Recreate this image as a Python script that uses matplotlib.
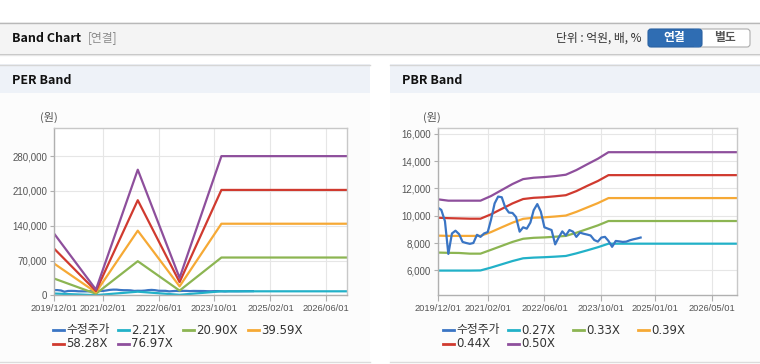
import numpy as np
import pandas as pd
import matplotlib
matplotlib.use('Agg')
import matplotlib.pyplot as plt
from matplotlib.patches import Rectangle, FancyBboxPatch

KR = ['Noto Sans CJK KR', 'DejaVu Sans']
NUM = ['DejaVu Sans', 'Noto Sans CJK KR']
plt.rcParams['font.family'] = KR

# 수정주가 (월별, 2019/12 ~ 2024/09)
price = [10600, 10420, 9600, 7200, 8700, 8900, 8650, 8080, 8000, 7940,
         8000, 8600, 8450, 8700, 8800, 9700, 10900, 11400, 11350, 10600,
         10230, 10200, 9900, 8830, 9150, 9050, 9500, 10400, 10850, 10300,
         9150, 9050, 8950, 7900, 8400, 8850, 8550, 8950, 8830, 8450,
         8760, 8680, 8620, 8550, 8220, 8100, 8400, 8450, 8150, 7720,
         8150, 8120, 8080, 8100, 8200, 8270, 8330, 8400]
price_dates = pd.date_range('2019-12-01', periods=len(price), freq='MS')

# PER band (연간)
per_dates = pd.to_datetime(['2019-12-01', '2020-12-01', '2021-12-01',
                            '2022-12-01', '2023-12-01', '2026-12-01'])
per_221 = [3570, 330, 7260, 1000, 8040, 8040]
per_2090 = [33800, 3100, 68600, 9500, 76000, 76000]
per_3959 = [64000, 5900, 130000, 18000, 144000, 144000]
per_5828 = [94200, 8700, 191300, 26500, 212000, 212000]
per_7697 = [124400, 11500, 252700, 35000, 280000, 280000]
per_labels = ['2.21X', '20.90X', '39.59X', '58.28X', '76.97X']

# PBR band (분기)
pbr_dates = pd.to_datetime(['2019-12-01', '2020-03-01', '2020-06-01', '2020-09-01',
                            '2020-12-01', '2021-03-01', '2021-06-01', '2021-09-01',
                            '2021-12-01', '2022-03-01', '2022-06-01', '2022-09-01',
                            '2022-12-01', '2023-03-01', '2023-06-01', '2023-09-01',
                            '2023-12-01', '2026-12-07'])
pbr_027 = [5980, 5980, 5980, 5980, 5990, 6200, 6440, 6680, 6880, 6930,
           6960, 7000, 7050, 7240, 7460, 7690, 7950, 7950]
pbr_033 = [7300, 7280, 7270, 7220, 7220, 7500, 7790, 8080, 8310, 8380,
           8410, 8460, 8520, 8750, 9020, 9290, 9610, 9610]
pbr_039 = [8540, 8520, 8520, 8520, 8520, 8800, 9150, 9490, 9770, 9850,
           9880, 9940, 10010, 10280, 10600, 10920, 11290, 11290]
pbr_044 = [9850, 9820, 9800, 9780, 9780, 10100, 10500, 10900, 11220, 11310,
           11350, 11420, 11500, 11800, 12180, 12540, 12970, 12970]
pbr_050 = [11200, 11100, 11100, 11100, 11100, 11440, 11880, 12320, 12680, 12780,
           12830, 12900, 13000, 13340, 13760, 14170, 14650, 14650]
pbr_labels = ['0.27X', '0.33X', '0.39X', '0.44X', '0.50X']

per_xticks = ['2019/12/01', '2021/02/01', '2022/06/01', '2023/10/01', '2025/02/01', '2026/06/01']
pbr_xticks = ['2019/12/01', '2021/02/01', '2022/06/01', '2023/10/01', '2025/01/01', '2026/05/01']
per_yticks = [0, 70000, 140000, 210000, 280000]
pbr_yticks = [6000, 8000, 10000, 12000, 14000, 16000]

price_color = '#3a75c4'
band_colors = ['#22b1c8', '#8cb552', '#f6a935', '#d03a2f', '#8e4f9c']

fig = plt.figure(figsize=(7.6, 3.64), dpi=100)
fig.patch.set_facecolor('white')

# 배경 (픽셀 좌표)
bg = fig.add_axes([0, 0, 1, 1])
bg.set_xlim(0, 760)
bg.set_ylim(364, 0)
bg.axis('off')

bg.add_patch(Rectangle((0, 22), 760, 31, fc='#f4f4f4', ec='none'))
bg.plot([0, 760], [22.5, 22.5], color='#b8b8b8', lw=1)
bg.plot([0, 760], [53.5, 53.5], color='#c2c2c2', lw=1)
bg.plot([0, 760], [54.5, 54.5], color='#e6e6e6', lw=1)
bg.text(12, 38, 'Band Chart', fontsize=9, fontweight='bold', color='#111', va='center')
bg.text(88, 38, '[연결]', fontsize=8.5, color='#8a8a8a', va='center')
bg.text(641, 38, '단위 : 억원, 배, %', fontsize=8.5, color='#333', va='center', ha='right')
bg.add_patch(FancyBboxPatch((699, 29), 51, 18, boxstyle='round,pad=0,rounding_size=3',
                            fc='white', ec='#adadad', lw=0.8))
bg.add_patch(FancyBboxPatch((648, 29), 54, 18, boxstyle='round,pad=0,rounding_size=3',
                            fc='#2f6db3', ec='#2a62a2', lw=0.8))
bg.add_patch(Rectangle((694, 29.4), 6, 17.2, fc='#2f6db3', ec='none'))
bg.text(674, 38, '연결', fontsize=8.5, fontweight='bold', color='white', va='center', ha='center')
bg.text(724.5, 38, '별도', fontsize=8.5, fontweight='bold', color='#555', va='center', ha='center')

for x0, title in [(0, 'PER Band'), (390, 'PBR Band')]:
    bg.add_patch(Rectangle((x0, 64), 370, 298, fc='#fcfcfc', ec='none'))
    bg.add_patch(Rectangle((x0, 64), 370, 29, fc='#eef2f8', ec='none'))
    bg.plot([x0, x0 + 370], [64.5, 64.5], color='#d6d6d6', lw=1)
    bg.plot([x0, x0 + 370], [362, 362], color='#dcdcdc', lw=1)
    bg.text(x0 + 12, 80, title, fontsize=9, fontweight='bold', color='#111', va='center')

bg.text(49, 117, '(원)', fontsize=8, color='#555', va='center', ha='center')
bg.text(432, 117, '(원)', fontsize=8, color='#555', va='center', ha='center')


def legend_rows(x0, names, colors):
    for i, (name, c) in enumerate(zip(names, colors)):
        cx = x0 + (i % 4) * 65
        cy = 330 + (i // 4) * 13.5
        bg.plot([cx, cx + 11], [cy, cy], color=c, lw=2)
        bg.text(cx + 13.5, cy, name, fontsize=8.5, color='#333', va='center', family=NUM)


def style_axes(ax, xt_labels, yticks, ylim, xlim):
    ax.set_facecolor('white')
    for s in ax.spines.values():
        s.set_color('#c8c8c8')
        s.set_linewidth(1)
    ax.spines['left'].set_color('#b0b0b0')
    ax.spines['bottom'].set_color('#b0b0b0')
    ax.set_xlim(pd.Timestamp(xlim[0]), pd.Timestamp(xlim[1]))
    ax.set_ylim(*ylim)
    ax.set_xticks(pd.to_datetime(xt_labels), labels=xt_labels,
                  fontfamily='Liberation Sans', fontsize=6.7, color='#555')
    ax.set_yticks(yticks, labels=[f'{v:,}' for v in yticks],
                  fontfamily='Liberation Sans', fontsize=7, color='#555')
    ax.tick_params(axis='x', length=4, width=0.8, color='#b0b0b0', pad=2)
    ax.tick_params(axis='y', length=3, width=0.8, color='#b0b0b0', pad=2)
    ax.grid(True, color='#e6e6e6', lw=0.8)
    ax.set_axisbelow(True)


# PER
ax1 = fig.add_axes([54 / 760, 1 - 295.3 / 364, 293 / 760, 167 / 364])
ax1.plot(price_dates, price, color=price_color, lw=1.6)
for vals, c in zip([per_221, per_2090, per_3959, per_5828, per_7697], band_colors):
    ax1.plot(per_dates, vals, color=c, lw=1.6)
style_axes(ax1, per_xticks, per_yticks, (0, 336000), ('2019-12-01', '2026-12-01'))
legend_rows(52.7, ['수정주가'] + per_labels, [price_color] + band_colors)

# PBR
ax2 = fig.add_axes([437.7 / 760, 1 - 295.3 / 364, 299.6 / 760, 167 / 364])
for vals, c in zip([pbr_027, pbr_033, pbr_039, pbr_044, pbr_050], band_colors):
    ax2.plot(pbr_dates, vals, color=c, lw=1.6)
ax2.plot(price_dates, price, color=price_color, lw=1.6)
style_axes(ax2, pbr_xticks, pbr_yticks, (4170, 16400), ('2019-12-01', '2026-12-07'))
legend_rows(442.7, ['수정주가'] + pbr_labels, [price_color] + band_colors)

fig.savefig('out.png', dpi=100, facecolor=fig.get_facecolor())
